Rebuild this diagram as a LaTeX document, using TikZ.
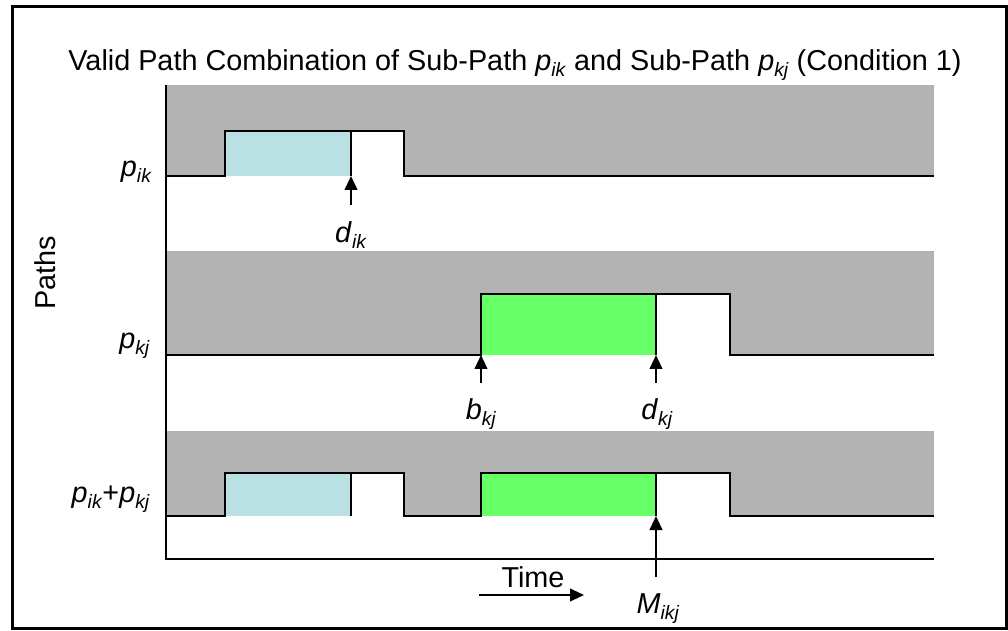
\documentclass[tikz,border=0pt]{standalone}
\usepackage{fontspec}
\setmainfont{Liberation Sans}
\usetikzlibrary{arrows.meta}
\definecolor{bandgray}{RGB}{179,179,179}
\definecolor{lightblue}{RGB}{185,224,227}
\definecolor{brightgreen}{RGB}{102,255,102}
\newcommand{\pvar}[2]{\textit{#1}\raisebox{-4.5pt}{\fontsize{14.5}{14.5}\selectfont\textit{#2}}}
\begin{document}
\begin{tikzpicture}[x=0.75pt,y=-0.75pt,
  sig/.style={line width=1.5pt,line join=miter},
  axisline/.style={line width=1.5pt},
  pointer/.style={line width=1.5pt,-{Triangle[length=10.5pt,width=9.5pt]}},
  lab/.style={font=\fontsize{21.6}{24}\selectfont,inner sep=0pt},
  frame/.style={line width=2.25pt}]
\useasboundingbox (0,0) rectangle (1008,631);
\draw[frame] (12.5,6.5) rectangle (1006.5,628);
\node[lab,anchor=base] (title) at (515,71) {Valid Path Combination of Sub-Path \pvar{p}{ik} and Sub-Path \pvar{p}{kj} (Condition 1)};
% Row 1
\fill[bandgray] (166,85) rectangle (934,176);
\fill[lightblue] (225,131) rectangle (351,176);
\fill[white] (351,131) rectangle (404,176);
\draw[sig] (166,176) -- (225,176) -- (225,131) -- (404,131) -- (404,176) -- (934,176);
\draw[sig] (351,131) -- (351,176);
% Row 2
\fill[bandgray] (166,251) rectangle (934,355);
\fill[brightgreen] (481,294) rectangle (656,355);
\fill[white] (656,294) rectangle (730,355);
\draw[sig] (166,355) -- (481,355) -- (481,294) -- (730,294) -- (730,355) -- (934,355);
\draw[sig] (656,294) -- (656,355);
% Row 3
\fill[bandgray] (166,431) rectangle (934,516);
\fill[lightblue] (225,473) rectangle (351,516);
\fill[white] (351,473) rectangle (404,516);
\fill[brightgreen] (481,473) rectangle (656,516);
\fill[white] (656,473) rectangle (730,516);
\draw[sig] (166,516) -- (225,516) -- (225,473) -- (404,473) -- (404,516) -- (481,516) -- (481,473) -- (730,473) -- (730,516) -- (934,516);
\draw[sig] (351,473) -- (351,516);
\draw[sig] (656,473) -- (656,516);
% Axes
\draw[axisline] (166,85) -- (166,559) -- (934,559);
% Row labels
\node[lab,anchor=base east] (rowik) at (152,177) {\pvar{p}{ik}};
\node[lab,anchor=base east] (rowkj) at (150,349) {\pvar{p}{kj}};
\node[lab,anchor=base east] (rowsum) at (150,502) {\pvar{p}{ik}+\pvar{p}{kj}};
\node[lab,rotate=90] (paths) at (45,273) {Paths};
% Markers
\node[lab,anchor=base] (dik) at (351,243) {\pvar{d}{ik}};
\node[lab,anchor=base] (bkj) at (481,420) {\pvar{b}{kj}};
\node[lab,anchor=base] (dkj) at (657,420) {\pvar{d}{kj}};
\node[lab,anchor=base] (mikj) at (658,613) {\pvar{M}{ikj}};
\coordinate (dikTail) at (351,205); \coordinate (dikTip) at (351,176);
\coordinate (bkjTail) at (481,383); \coordinate (bkjTip) at (481,355);
\coordinate (dkjTail) at (656,383); \coordinate (dkjTip) at (656,355);
\coordinate (mTail) at (656,577); \coordinate (mTip) at (656,516);
\draw[pointer] (dikTail) -- (dikTip);
\draw[pointer] (bkjTail) -- (bkjTip);
\draw[pointer] (dkjTail) -- (dkjTip);
\draw[pointer] (mTail) -- (mTip);
% Time
\node[lab,anchor=base] (time) at (533,587) {Time};
\coordinate (timeStart) at (479,595); \coordinate (timeEnd) at (584,595);
\draw[pointer] (timeStart) -- (timeEnd);
\end{tikzpicture}
\end{document}
